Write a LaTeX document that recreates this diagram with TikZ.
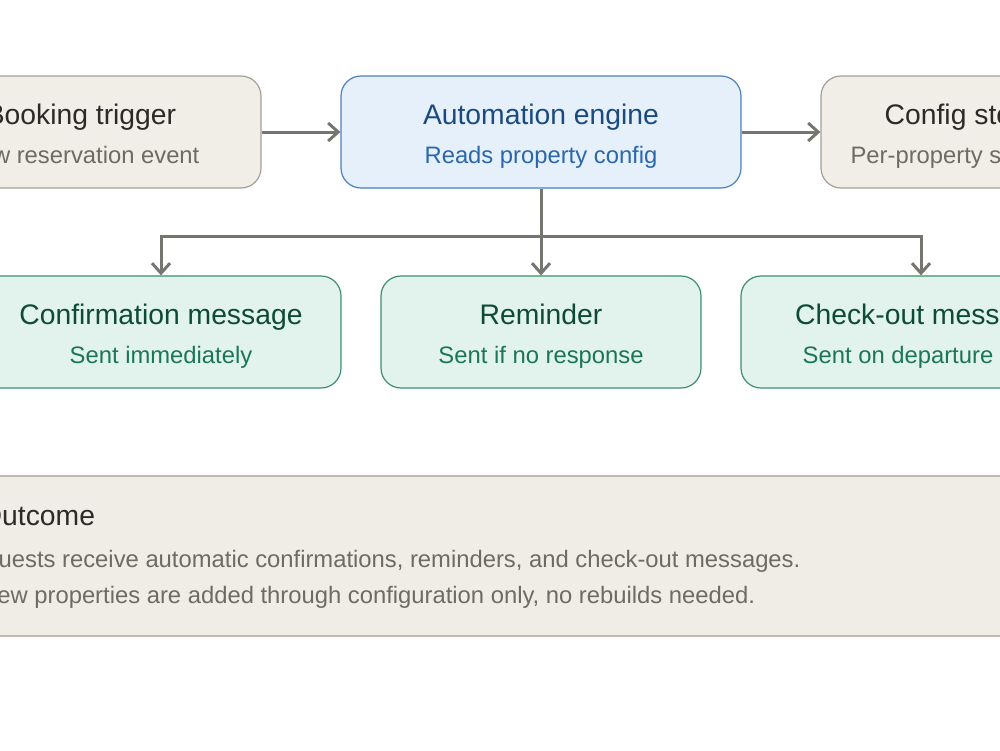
\documentclass[tikz,border=0pt]{standalone}
\usepackage{fontspec}
\setmainfont{Liberation Sans}
\usepackage{xcolor}
\usepackage{tikz}
\usetikzlibrary{arrows.meta, positioning, calc}

\definecolor{sandfill}{HTML}{F1EEE8}
\definecolor{sandline}{HTML}{A3A09A}
\definecolor{sandhead}{HTML}{2B2A28}
\definecolor{sandsub}{HTML}{6E6A64}
\definecolor{bluefill}{HTML}{E5F0FB}
\definecolor{blueline}{HTML}{4A80C0}
\definecolor{bluehead}{HTML}{1A4A80}
\definecolor{bluesub}{HTML}{2A67AD}
\definecolor{mintfill}{HTML}{E1F3EC}
\definecolor{mintline}{HTML}{3E8E6E}
\definecolor{minthead}{HTML}{0E4A38}
\definecolor{mintsub}{HTML}{1B7657}
\definecolor{wire}{HTML}{777570}
\definecolor{panelfill}{HTML}{F0EDE6}
\definecolor{panelline}{HTML}{BDBAB4}

\newcommand{\headfont}{\fontsize{28.3}{34}\selectfont}
\newcommand{\subfont}{\fontsize{23.8}{28}\selectfont}

\begin{document}
\begin{tikzpicture}[x=1pt, y=-1pt,
    box/.style={draw, rounded corners=20pt, line width=1.2pt, minimum height=112pt, inner sep=0pt},
    sandbox/.style={box, fill=sandfill, draw=sandline},
    bluebox/.style={box, fill=bluefill, draw=blueline},
    mintbox/.style={box, fill=mintfill, draw=mintline},
    head/.style={anchor=base, font=\headfont, inner sep=0pt},
    sub/.style={anchor=base, font=\subfont, inner sep=0pt},
    arrow/.style={-{Straight Barb[length=10pt, width=18pt]}, line width=3pt, draw=wire}
]
    \useasboundingbox (0,0) rectangle (1000,750);
    \clip (0,0) rectangle (1000,750);

    % top row
    \node[sandbox, minimum width=360pt] (booking) at (81,132) {};
    \node[bluebox, minimum width=400pt] (engine) at (541,132) {};
    \node[sandbox, minimum width=280pt] (config) at (961,132) {};

    \node[head, text=sandhead] (bookingtitle) at ([yshift=8pt]booking.center) {Booking trigger};
    \node[sub, text=sandsub] (bookingsub) at ([yshift=-31.5pt]booking.center) {New reservation event};
    \node[head, text=bluehead] (enginetitle) at ([yshift=8pt]engine.center) {Automation engine};
    \node[sub, text=bluesub] (enginesub) at ([yshift=-31.5pt]engine.center) {Reads property config};
    \node[head, text=sandhead] (configtitle) at ([yshift=8pt]config.center) {Config store};
    \node[sub, text=sandsub] (configsub) at ([yshift=-31.5pt]config.center) {Per-property settings};

    % message row
    \node[mintbox, minimum width=360pt] (confirm) at (161,332) {};
    \node[mintbox, minimum width=320pt] (reminder) at (541,332) {};
    \node[mintbox, minimum width=360pt] (checkout) at (921,332) {};

    \node[head, text=minthead] (confirmtitle) at ([yshift=8pt]confirm.center) {Confirmation message};
    \node[sub, text=mintsub] (confirmsub) at ([yshift=-31.5pt]confirm.center) {Sent immediately};
    \node[head, text=minthead] (remindertitle) at ([yshift=8pt]reminder.center) {Reminder};
    \node[sub, text=mintsub] (remindersub) at ([yshift=-31.5pt]reminder.center) {Sent if no response};
    \node[head, text=minthead] (checkouttitle) at ([yshift=8pt]checkout.center) {Check-out message};
    \node[sub, text=mintsub] (checkoutsub) at ([xshift=-23pt, yshift=-31.5pt]checkout.center) {Sent on departure};

    % connectors
    \coordinate (split) at (541,236);
    \draw[arrow] (booking) -- (engine);
    \draw[arrow] (engine) -- (config);
    \draw[arrow] (engine) -- (reminder);
    \draw[arrow] (split) -| (confirm.north);
    \draw[arrow] (split) -| (checkout.north);

    % outcome panel
    \node[fill=panelfill, minimum width=1100pt, minimum height=160pt, inner sep=0pt] (outcome) at (500,556) {};
    \draw[panelline, line width=2pt] (outcome.north west) -- (outcome.north east);
    \draw[panelline, line width=2pt] (outcome.south west) -- (outcome.south east);
    \node[anchor=base west, font=\headfont, text=sandhead, inner sep=0pt] (outcometitle) at (-20,525) {Outcome};
    \node[anchor=base west, font=\subfont, text=sandsub, inner sep=0pt] (outcomeline1) at (-20,567) {Guests receive automatic confirmations, reminders, and check-out messages.};
    \node[anchor=base west, font=\subfont, text=sandsub, inner sep=0pt] (outcomeline2) at (-20,603) {New properties are added through configuration only, no rebuilds needed.};
\end{tikzpicture}
\end{document}
